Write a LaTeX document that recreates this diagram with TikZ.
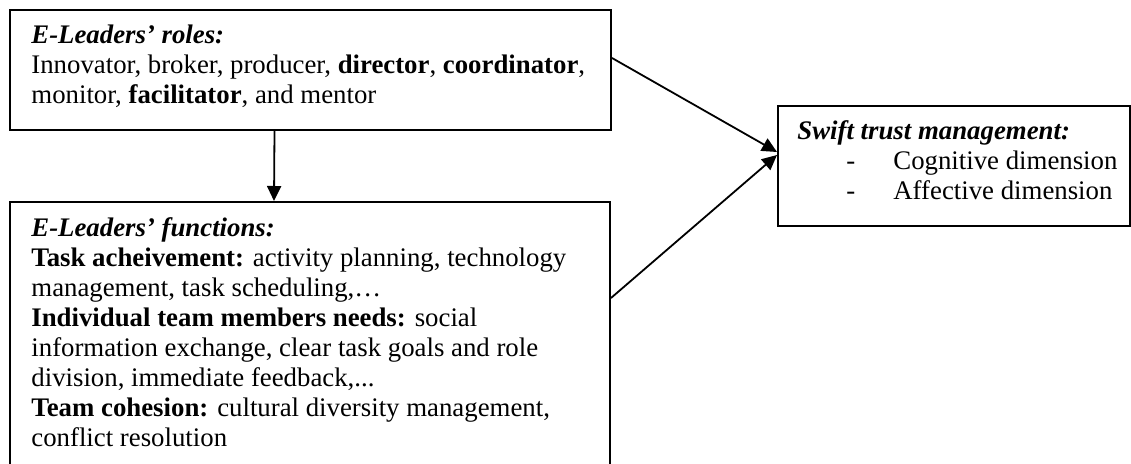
\documentclass[tikz,border=0pt]{standalone}
\usepackage{fontspec}
\setmainfont{Liberation Serif}
\usetikzlibrary{arrows.meta}
\begin{document}
\begin{tikzpicture}[x=0.5pt,y=-0.5pt,
  box/.style={draw, line width=1pt, inner sep=0pt, anchor=north west},
  txt/.style={inner sep=0pt, anchor=north west, align=left,
    font=\fontsize{13.4}{15}\selectfont},
  link/.style={line width=0.9pt, -{Triangle[length=7.5pt,width=7pt]}}]
\useasboundingbox (0,0) rectangle (1131,464);
\clip (0,0) rectangle (1131,464);

% boxes
\node[box, minimum width=300.5pt, minimum height=60pt] (roles) at (9,9) {};
\node[box, minimum width=300pt, minimum height=140pt] (functions) at (9,201) {};
\node[box, minimum width=176pt, minimum height=60pt] (trust) at (777,105) {};

% box texts
\node[txt] (rolestxt) at (31,22) {\strut\textbf{\textit{E-Leaders’ roles:}}\\
Innovator, broker, producer, \textbf{director}, \textbf{coordinator},\\
monitor, \textbf{facilitator}, and mentor};

\node[txt] (functxt) at (31,215) {\strut\textbf{\textit{E-Leaders’ functions:}}\\
\textbf{Task acheivement:} activity planning, technology\\
management, task scheduling,…\\
\textbf{Individual team members needs:} social\\
information exchange, clear task goals and role\\
division, immediate feedback,...\\
\textbf{Team cohesion:} cultural diversity management,\\
conflict resolution};

\node[txt] (trusttxt) at (797,118) {\strut\textbf{\textit{Swift trust management:}}\\
\hspace*{24.5pt}\makebox[23.5pt][l]{-}Cognitive dimension\\
\hspace*{24.5pt}\makebox[23.5pt][l]{-}Affective dimension};

% connectors
\draw[link] ([xshift=-18pt]roles.south) -- ([xshift=-18pt]functions.north);
\draw[link] ([yshift=6pt]roles.east) -- ([yshift=7pt]trust.west);
\draw[link] ([yshift=22pt]functions.east) -- ([yshift=5.5pt]trust.west);
\end{tikzpicture}
\end{document}
